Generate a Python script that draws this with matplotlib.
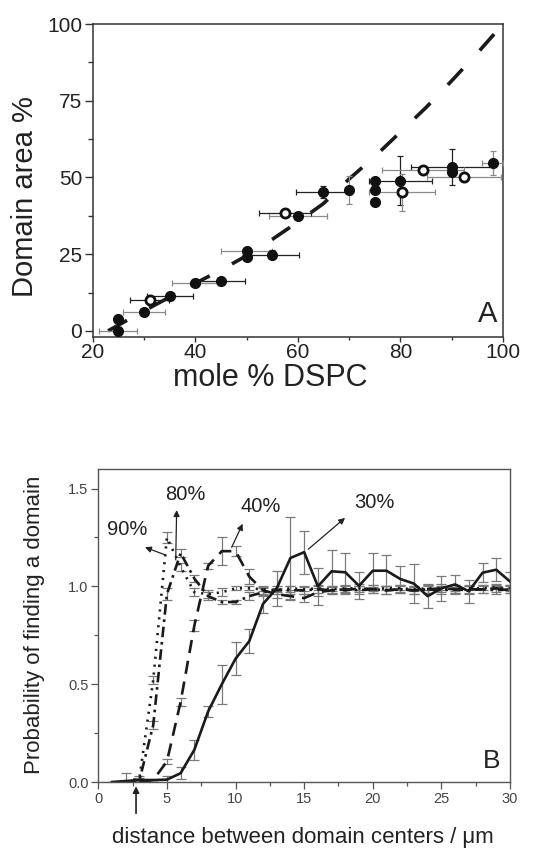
import numpy as np
import matplotlib
matplotlib.use("Agg")
import matplotlib.pyplot as plt
from matplotlib.ticker import MultipleLocator

plt.rcParams['font.family'] = ['Liberation Sans', 'DejaVu Sans']

# ---------------- Panel A data ----------------
filled_x = [25, 25, 30, 35, 40, 45, 50, 50, 55, 60, 65, 70, 75, 75, 75, 80, 90, 90, 98]
filled_y = [0.0, 4.0, 6.0, 11.4, 15.5, 16.1, 26.0, 24.0, 24.8, 37.3, 45.2, 46.0, 49.0, 45.8, 41.9, 49.0, 53.4, 51.7, 54.7]
filled_xerr = [3.7, 0, 4.0, 4.5, 4.5, 4.7, 5.0, 0, 5.3, 5.6, 5.3, 0, 0, 0, 0, 6.2, 8.0, 0, 2.0]
filled_yerr = [0, 0, 0, 0, 0, 0, 0, 0, 1.5, 0, 2.0, 4.5, 0, 0, 0, 8.0, 6.0, 0, 4.0]
filled_ecol = ['g', 'k', 'g', 'k', 'g', 'k', 'g', 'k', 'k', 'g', 'k', 'g', 'k', 'k', 'k', 'k', 'k', 'k', 'g']

open_x = [31.1, 57.5, 80.3, 84.4, 92.4]
open_y = [10.1, 38.3, 45.1, 52.3, 50.1]
open_xerr = [3.8, 5.0, 6.5, 8.0, 7.2]
open_yerr = [0, 0, 6.0, 0, 1.5]
open_ecol = ['k', 'k', 'g', 'g', 'g']

ideal_x = [23, 30, 35, 40, 45, 50, 55, 60, 65, 70, 75, 80, 85, 90, 95, 100]
ideal_y = [0, 6.5, 11, 15.5, 19.8, 24.5, 29.8, 35.5, 41.5, 49.5, 56.8, 64.8, 72.8, 81.5, 90.5, 100]

xticksA = [20, 40, 60, 80, 100]
yticksA = [0, 25, 50, 75, 100]

# ---------------- Panel B data ----------------
x30 = list(range(1, 31))
y30 = [0.0, 0.005, 0.01, 0.01, 0.012, 0.045, 0.165, 0.36, 0.50, 0.63, 0.72, 0.91, 0.99, 1.145,
       1.175, 1.00, 1.077, 1.072, 1.003, 1.08, 1.08, 1.038, 1.014, 0.95, 0.99, 1.01, 0.975,
       1.07, 1.085, 1.025]
e30 = [0, 0.04, 0, 0, 0.02, 0.03, 0.05, 0.03, 0.10, 0.085, 0.06, 0.045, 0.09, 0.21, 0.11,
       0.095, 0.11, 0.10, 0.07, 0.09, 0.08, 0.065, 0.10, 0.06, 0.065, 0.05, 0.06, 0.05, 0.06, 0.05]

x40 = list(range(3, 31))
y40 = [0.0, 0.01, 0.105, 0.41, 0.80, 1.105, 1.18, 1.18, 1.05, 0.98, 0.96, 0.95, 0.94, 0.97,
       0.98, 0.98, 0.99, 0.985, 0.98, 0.985, 0.98, 0.985, 0.99, 0.985, 0.985, 0.985, 0.99, 0.985]
e40 = [0, 0, 0.015, 0.02, 0.03, 0.015, 0.07, 0.025, 0.04, 0.02, 0.02, 0.02, 0.02, 0.02,
       0.02, 0.02, 0.02, 0.02, 0.02, 0.02, 0.02, 0.02, 0.02, 0.02, 0.02, 0.02, 0.02, 0.02]

x80 = list(range(2, 31))
y80 = [0.0, 0.01, 0.29, 0.96, 1.17, 1.04, 0.95, 0.92, 0.92, 0.95, 0.97, 0.98, 0.98, 0.98,
       0.985, 0.98, 0.985, 0.98, 0.985, 0.98, 0.985, 0.98, 0.985, 0.98, 0.985, 0.98, 0.985,
       0.98, 0.985]
e80 = [0, 0.01, 0.02, 0.03, 0.02, 0.02, 0.02, 0.01, 0.01, 0.02, 0.02, 0.02, 0.02, 0.02,
       0.02, 0.02, 0.02, 0.02, 0.02, 0.02, 0.02, 0.02, 0.02, 0.02, 0.02, 0.02, 0.02, 0.02, 0.02]

x90 = list(range(2, 31))
y90 = [0.0, 0.02, 0.52, 1.25, 1.10, 0.97, 0.96, 0.97, 0.99, 0.99, 0.985, 0.98, 0.99, 0.985,
       0.99, 0.985, 0.99, 0.99, 0.985, 0.99, 0.99, 0.985, 0.99, 0.99, 0.985, 0.99, 0.99,
       0.995, 0.99]
e90 = [0, 0.01, 0.02, 0.03, 0.02, 0.02, 0.02, 0.02, 0.01, 0.01, 0.01, 0.01, 0.01, 0.01,
       0.01, 0.01, 0.01, 0.01, 0.01, 0.01, 0.01, 0.01, 0.01, 0.01, 0.01, 0.01, 0.01, 0.01, 0.01]

labelsB = ['90%', '80%', '40%', '30%']

# ---------------- Figure ----------------
W, H = 538, 850
fig = plt.figure(figsize=(W / 100, H / 100), dpi=100)

def fx(px):
    return px / W

def fy(py):
    return 1 - py / H

GRAY = '#8a8a8a'
DARK = '#1a1a1a'

# Panel A
axA = fig.add_axes([fx(92.7), fy(337), fx(503) - fx(92.7), fy(24) - fy(337)])
axA.plot(ideal_x, ideal_y, color=DARK, lw=2.6, dashes=(6, 7), zorder=2)
for x, y, xe, ye, c in zip(filled_x, filled_y, filled_xerr, filled_yerr, filled_ecol):
    if xe or ye:
        axA.errorbar([x], [y], xerr=[xe] if xe else None, yerr=[ye] if ye else None,
                     fmt='none', ecolor=(GRAY if c == 'g' else '#222222'),
                     elinewidth=0.9, capsize=2.5, capthick=0.9, zorder=3)
for x, y, xe, ye, c in zip(open_x, open_y, open_xerr, open_yerr, open_ecol):
    axA.errorbar([x], [y], xerr=[xe] if xe else None, yerr=[ye] if ye else None,
                 fmt='none', ecolor=(GRAY if c == 'g' else '#222222'),
                 elinewidth=0.9, capsize=2.5, capthick=0.9, zorder=3)
axA.plot(filled_x, filled_y, 'o', ms=7.0, mfc='#111111', mec='#111111', zorder=5)
axA.plot(open_x, open_y, 'o', ms=6.6, mfc='white', mec='#111111', mew=2.0, zorder=5)

axA.set_xlim(20, 100)
axA.set_ylim(-2, 100)
axA.set_xticks(xticksA)
axA.set_yticks(yticksA)
axA.xaxis.set_minor_locator(MultipleLocator(10))
axA.yaxis.set_minor_locator(MultipleLocator(12.5))
axA.tick_params(which='major', direction='out', width=1.0, labelsize=15,
                color='#333333', labelcolor='#222222')
axA.tick_params(axis='y', which='major', length=5.5, pad=2)
axA.tick_params(axis='x', which='major', length=3.5, pad=1)
axA.tick_params(axis='y', which='minor', direction='out', length=3.5, width=1.0, color='#333333')
axA.tick_params(axis='x', which='minor', direction='out', length=2.5, width=1.0, color='#333333')
for s in axA.spines.values():
    s.set_linewidth(1.1)
    s.set_color('#333333')
fig.text(fx(270), fy(378), 'mole % DSPC', fontsize=22, ha='center', va='center', color='#222222')
fig.text(fx(25), fy(197), 'Domain area %', fontsize=21, ha='center', va='center',
         rotation=90, color='#222222')
fig.text(fx(497), fy(322), 'A', fontsize=21, ha='right', va='baseline', color='#222222')

# Panel B
axB = fig.add_axes([fx(98.3), fy(782), fx(510) - fx(98.3), fy(469) - fy(782)])
ekw = dict(ecolor='#7a7a7a', elinewidth=0.9, capsize=3.5, capthick=0.9, zorder=2)
axB.errorbar(x30, y30, yerr=e30, color=DARK, lw=1.9, ls='-', **ekw)
axB.errorbar(x40, y40, yerr=e40, color=DARK, lw=1.9, dashes=(5, 3), **ekw)
axB.errorbar(x80, y80, yerr=e80, color=DARK, lw=1.9, dashes=(4, 1.8, 1, 1.8), **ekw)
axB.errorbar(x90, y90, yerr=e90, color=DARK, lw=1.9, dashes=(0.8, 2.2), **ekw)

axB.set_xlim(0, 30)
axB.set_ylim(0, 1.6)
axB.xaxis.set_major_locator(MultipleLocator(5))
axB.xaxis.set_minor_locator(MultipleLocator(2.5))
axB.yaxis.set_major_locator(MultipleLocator(0.5))
axB.yaxis.set_minor_locator(MultipleLocator(0.25))
axB.yaxis.set_major_formatter(matplotlib.ticker.FormatStrFormatter('%.1f'))
axB.tick_params(which='major', direction='out', length=5, width=0.9, labelsize=10.5,
                color='#555555', labelcolor='#444444', pad=2)
axB.tick_params(which='minor', direction='out', length=3, width=0.9, color='#555555')
for s in axB.spines.values():
    s.set_linewidth(1.0)
    s.set_color('#555555')

arrow_kw = dict(arrowstyle='-|>', lw=0.9, color='#222222', mutation_scale=9,
                shrinkA=0, shrinkB=0)
ann = [('90%', (2.09, 1.29), (4.91, 1.16), (3.4, 1.20)),
       ('80%', (6.32, 1.47), (5.64, 1.135), (5.71, 1.39)),
       ('40%', (11.86, 1.41), (9.72, 1.20), (10.52, 1.32)),
       ('30%', (20.1, 1.43), (15.3, 1.19), (17.98, 1.35))]
for lab, tpos, tail, head in ann:
    axB.annotate('', xy=head, xytext=tail, arrowprops=arrow_kw)
    axB.text(tpos[0], tpos[1], lab, fontsize=14.5, ha='center', va='center', color='#222222')

axB.annotate('', xy=(2.75, -0.022), xytext=(2.75, -0.16), xycoords='data',
             arrowprops=dict(arrowstyle='-|>', lw=1.2, color='#222222', mutation_scale=9,
                             shrinkA=0, shrinkB=0), annotation_clip=False)
fig.text(fx(500), fy(768), 'B', fontsize=19, ha='right', va='baseline', color='#222222')
fig.text(fx(35), fy(625), 'Probability of finding a domain', fontsize=16, ha='center',
         va='center', rotation=90, color='#222222')
fig.text(fx(303), fy(838), 'distance between domain centers / \u03bcm', fontsize=16,
         ha='center', va='center', color='#222222')

fig.savefig('out.png', dpi=100)
